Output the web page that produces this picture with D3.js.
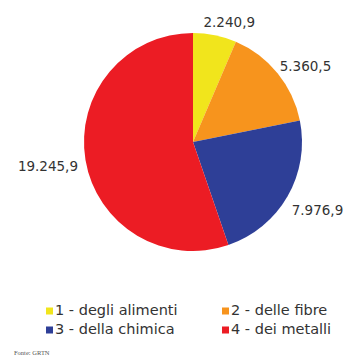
<!DOCTYPE html>
<html>
<head>
<meta charset="utf-8">
<script src="https://cdn.jsdelivr.net/npm/d3@7"></script>
<style>
  html, body { margin: 0; padding: 0; background: #fff; }
  svg { display: block; }
</style>
</head>
<body>
<svg id="chart" width="349" height="362"></svg>
<script>
// Settori e valori (ordine orario a partire dalle ore 12)
const categories = ["1 - degli alimenti", "2 - delle fibre", "3 - della chimica", "4 - dei metalli"];
const values = [2240.9, 5360.5, 7976.9, 19245.9];
const valueLabels = ["2.240,9", "5.360,5", "7.976,9", "19.245,9"];
const colors = ["#f1e51c", "#f7941d", "#2e3f97", "#ec1c24"];
const source = "Fonte: GRTN";

const svg = d3.select("#chart");
const cx = 193, cy = 142, r = 109;

const pie = d3.pie().sort(null).value(d => d)(values);
const arc = d3.arc().innerRadius(0).outerRadius(r);
const labelArc = d3.arc().innerRadius(r * 1.2).outerRadius(r * 1.2);

const g = svg.append("g").attr("transform", `translate(${cx},${cy})`);

g.selectAll("path.slice")
  .data(pie)
  .join("path")
  .attr("class", "slice")
  .attr("d", arc)
  .attr("fill", (d, i) => colors[i]);

// Etichette dei valori, posizionate all'esterno dei settori
const labelOffsets = [[10, 9], [11, 8], [11, 4], [14, 3]];
g.selectAll("text.val")
  .data(pie)
  .join("text")
  .attr("class", "val")
  .attr("x", (d, i) => labelArc.centroid(d)[0] + labelOffsets[i][0])
  .attr("y", (d, i) => labelArc.centroid(d)[1] + labelOffsets[i][1])
  .attr("text-anchor", (d, i) => i === 3 ? "end" : "middle")
  .attr("dominant-baseline", "middle")
  .attr("font-family", "DejaVu Sans, Verdana, sans-serif")
  .attr("font-size", 13.5)
  .attr("fill", "#333")
  .text((d, i) => valueLabels[i]);

// Legenda su due colonne
const legend = svg.append("g").attr("font-family", "DejaVu Sans, Verdana, sans-serif")
  .attr("font-size", 14.5).attr("fill", "#333");
const colX = [46, 222], rowY = [311, 330], box = 7;
categories.forEach((c, i) => {
  const x = colX[i % 2], y = rowY[Math.floor(i / 2)];
  legend.append("rect").attr("x", x).attr("y", y - box / 2).attr("width", box).attr("height", box)
    .attr("fill", colors[i]);
  legend.append("text").attr("x", x + box + 2).attr("y", y).attr("dominant-baseline", "middle")
    .text(c);
});

svg.append("text")
  .attr("x", 14).attr("y", 355)
  .attr("font-family", "Liberation Serif, serif")
  .attr("font-size", 6.5)
  .attr("fill", "#555")
  .text(source);
</script>
</body>
</html>
